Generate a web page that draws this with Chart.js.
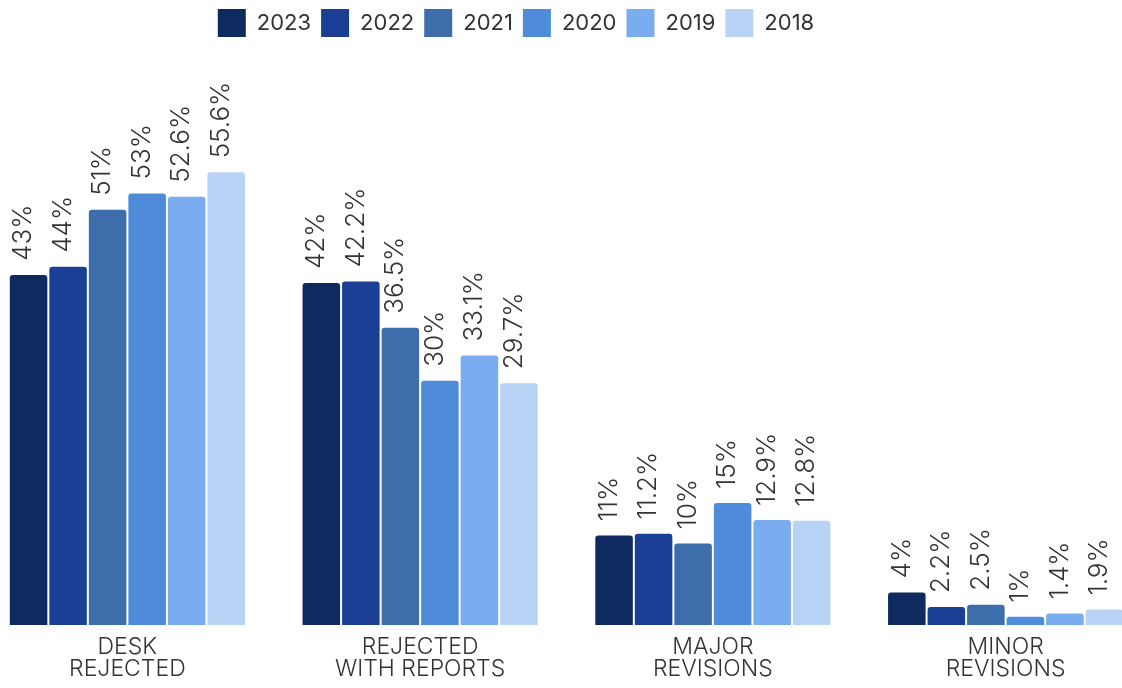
<!DOCTYPE html>
<html>
<head>
<meta charset="utf-8">
<script src="https://cdn.jsdelivr.net/npm/chart.js@4.4.1/dist/chart.umd.min.js"></script>
<style>
  html, body { margin: 0; padding: 0; background: #fff; overflow: hidden; }
  #wrap { position: relative; width: 1122px; height: 688px; overflow: hidden; }
  #box { position: absolute; left: -120px; top: 0; width: 1272px; height: 688px; }
</style>
</head>
<body>
<div id="wrap"><div id="box"><canvas id="decisions" width="1272" height="688"></canvas></div></div>
<script>
// categories and series
const categories = [["DESK", "REJECTED"], ["REJECTED", "WITH REPORTS"], ["MAJOR", "REVISIONS"], ["MINOR", "REVISIONS"]];
const years = ["2023", "2022", "2021", "2020", "2019", "2018"];
const v2023 = [43, 42, 11, 4];
const v2022 = [44, 42.2, 11.2, 2.2];
const v2021 = [51, 36.5, 10, 2.5];
const v2020 = [53, 30, 15, 1];
const v2019 = [52.6, 33.1, 12.9, 1.4];
const v2018 = [55.6, 29.7, 12.8, 1.9];
const colors = ["#0f2a5e", "#1a3f94", "#3d6dab", "#4e8bd9", "#7aacf0", "#b8d3f5"];

const series = [v2023, v2022, v2021, v2020, v2019, v2018];
const textColor = "#333333";
const fontFamily = "Inter, 'Noto Sans', sans-serif";

// rotated value labels above each bar
const barLabels = {
  id: 'barLabels',
  afterDatasetsDraw(chart) {
    const ctx = chart.ctx;
    ctx.save();
    ctx.fillStyle = textColor;
    ctx.font = "300 26px " + fontFamily;
    ctx.textAlign = 'left';
    ctx.textBaseline = 'middle';
    chart.data.datasets.forEach((ds, i) => {
      const meta = chart.getDatasetMeta(i);
      meta.data.forEach((bar, j) => {
        ctx.save();
        ctx.translate(bar.x, bar.y - 14);
        ctx.rotate(-Math.PI / 2);
        ctx.fillText(ds.data[j] + '%', 0, -5);
        ctx.restore();
      });
    });
    ctx.restore();
  }
};

const config = {
  type: 'bar',
  data: {
    labels: categories,
    datasets: years.map((y, i) => ({
      label: y,
      data: series[i],
      backgroundColor: colors[i],
      borderRadius: 3,
      borderSkipped: 'bottom',
      barPercentage: 0.95,
      categoryPercentage: 0.81
    }))
  },
  options: {
    responsive: false,
    animation: false,
    devicePixelRatio: 1,
    layout: { padding: { top: -1, bottom: 0 } },
    plugins: {
      tooltip: { enabled: false },
      legend: {
        position: 'top',
        labels: {
          boxWidth: 28,
          boxHeight: 28,
          padding: 10,
          color: textColor,
          font: { family: fontFamily, size: 22, weight: 400 }
        }
      }
    },
    scales: {
      x: {
        grid: { display: false },
        border: { display: false },
        ticks: {
          color: textColor,
          padding: 3,
          maxRotation: 0,
          font: { family: fontFamily, size: 23, weight: 300, lineHeight: 0.96 }
        },
        afterFit: function(s) { s.height = 63; }
      },
      y: {
        min: 0,
        max: 71,
        grid: { display: false },
        border: { display: false },
        ticks: { display: false },
        afterFit: function(s) { s.width = 101; }
      }
    }
  },
  plugins: [barLabels]
};

const myChart = new Chart(document.getElementById('decisions'), config);
</script>
</body>
</html>
